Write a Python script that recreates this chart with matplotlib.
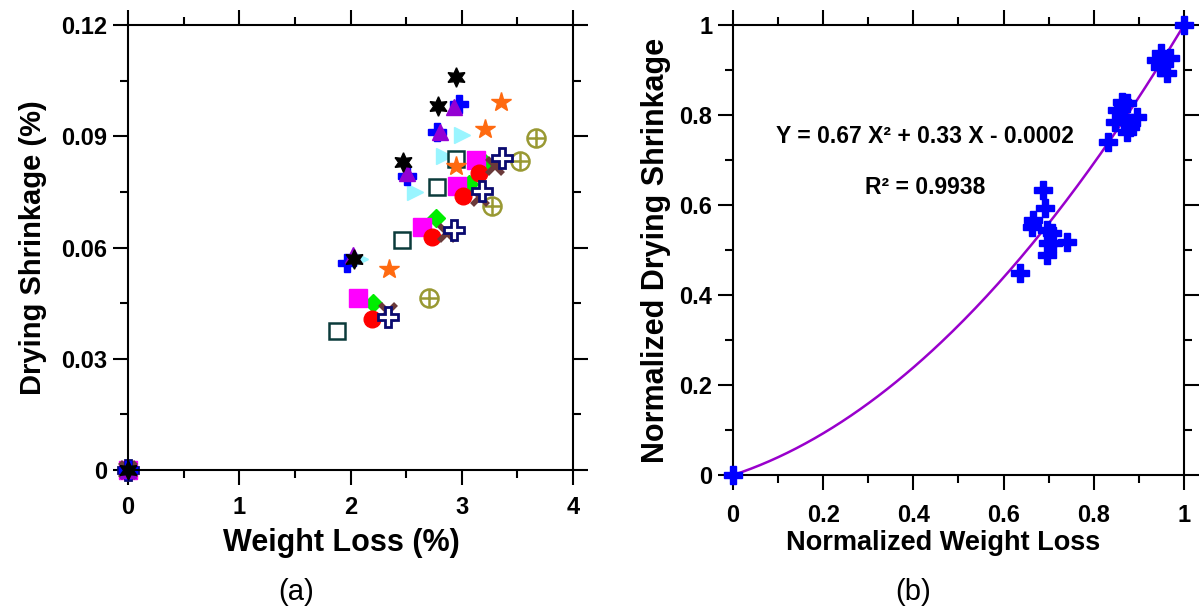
import matplotlib.pyplot as plt
import numpy as np
from matplotlib.ticker import MultipleLocator

plt.rcParams['font.family'] = ['Liberation Sans', 'DejaVu Sans']

# (a) weight loss (%) vs drying shrinkage (%), each series starts at origin
red_x = [0, 2.19, 2.735, 3.01, 3.155]
red_y = [0, 0.0407, 0.0629, 0.0740, 0.0800]
mag_x = [0, 2.07, 2.64, 2.96, 3.125]
mag_y = [0, 0.0463, 0.0656, 0.0767, 0.0836]
grn_x = [0, 2.205, 2.77, 3.065, 3.21]
grn_y = [0, 0.0451, 0.0679, 0.0771, 0.0827]
brn_x = [0, 2.335, 2.87, 3.16, 3.30]
brn_y = [0, 0.0427, 0.0640, 0.0737, 0.0821]
nvy_x = [0, 2.335, 2.93, 3.18, 3.365]
nvy_y = [0, 0.0412, 0.0647, 0.0752, 0.0841]
olv_x = [0, 2.71, 3.275, 3.52, 3.67]
olv_y = [0, 0.0465, 0.0713, 0.0834, 0.0894]
tea_x = [0, 1.88, 2.46, 2.78, 2.95]
tea_y = [0, 0.0376, 0.0620, 0.0762, 0.0838]
cyn_x = [0, 2.085, 2.58, 2.84, 3.0]
cyn_y = [0, 0.0570, 0.0751, 0.0847, 0.0903]
org_x = [0, 2.35, 2.95, 3.21, 3.35]
org_y = [0, 0.0541, 0.0820, 0.0920, 0.0993]
blu_x = [0, 1.97, 2.51, 2.78, 2.975]
blu_y = [0, 0.0559, 0.0793, 0.0912, 0.0987]
pur_x = [0, 2.02, 2.51, 2.80, 2.93]
pur_y = [0, 0.0580, 0.0802, 0.0912, 0.0978]
blk_x = [0, 2.03, 2.475, 2.79, 2.946]
blk_y = [0, 0.0569, 0.0831, 0.0982, 0.1059]

# (b) normalized values
norm_x = [0, 0.636, 0.662, 0.666, 0.687, 0.692, 0.696, 0.696, 0.699, 0.707, 0.71, 0.740,
          0.832, 0.847, 0.851, 0.862, 0.866, 0.873, 0.873, 0.880, 0.895,
          0.939, 0.947, 0.950, 0.954, 0.962, 0.969, 1.0]
norm_y = [0, 0.448, 0.552, 0.567, 0.633, 0.593, 0.544, 0.489, 0.515, 0.537, 0.516, 0.518,
          0.741, 0.785, 0.811, 0.830, 0.796, 0.826, 0.763, 0.774, 0.796,
          0.922, 0.907, 0.937, 0.915, 0.893, 0.926, 1.0]
fit_a, fit_b, fit_c = 0.67, 0.33, -0.0002

fig = plt.figure(figsize=(12.01, 6.10), dpi=100)
ax1 = fig.add_axes([0.1066, 0.2295, 0.3705, 0.7295])
ax2 = fig.add_axes([0.6103, 0.2213, 0.3755, 0.7377])


def style_axes(ax, xpad):
    for s in ax.spines.values():
        s.set_linewidth(1.5)
    ax.tick_params(which='both', direction='out', top=True, right=True, width=1.5,
                   labelsize=17)
    ax.tick_params(which='major', length=11, pad=4)
    ax.tick_params(axis='x', which='major', pad=xpad)
    ax.tick_params(which='minor', length=6)
    for lab in ax.get_xticklabels() + ax.get_yticklabels():
        lab.set_fontweight('bold')


ax = ax1
ax.plot(cyn_x, cyn_y, ls='none', marker='>', ms=12, color='#99F5FF', clip_on=False)
ax.plot(tea_x, tea_y, ls='none', marker='s', ms=11, mfc='white', mec='#0B3B3B', mew=1.8, clip_on=False)
ax.plot(org_x, org_y, ls='none', marker='*', ms=15, color='#FF6A10', clip_on=False)
ax.plot(olv_x, olv_y, ls='none', marker='o', ms=13, mfc='white', mec='#999933', mew=1.8, clip_on=False)
ax.plot(olv_x, olv_y, ls='none', marker='+', ms=13, mec='#999933', mew=1.8, clip_on=False)
ax.plot(grn_x, grn_y, ls='none', marker='D', ms=9, color='#00EE00', clip_on=False)
ax.plot(mag_x, mag_y, ls='none', marker='s', ms=13, color='#FF00FF', clip_on=False)
ax.plot(red_x, red_y, ls='none', marker='o', ms=12, color='#FF0000', clip_on=False)
ax.plot(brn_x, brn_y, ls='none', marker='x', ms=12, mec='#6B3A3A', mew=4, clip_on=False)
ax.plot(nvy_x, nvy_y, ls='none', marker='P', ms=14, mfc='white', mec='#0A0A70', mew=2, clip_on=False)
ax.plot(blu_x, blu_y, ls='none', marker='P', ms=13, color='#0000FF', clip_on=False)
ax.plot(pur_x, pur_y, ls='none', marker='^', ms=12, color='#9400D3', clip_on=False)
ax.plot(blk_x, blk_y, ls='none', marker=(6, 1, 0), ms=14, color='black', clip_on=False)
ax.set_xlim(0, 4)
ax.set_ylim(0, 0.12)
ax.xaxis.set_major_locator(MultipleLocator(1))
ax.xaxis.set_minor_locator(MultipleLocator(0.5))
ax.yaxis.set_major_locator(MultipleLocator(0.03))
ax.yaxis.set_minor_locator(MultipleLocator(0.015))
ax.set_xticks([0, 1, 2, 3, 4], ['0', '1', '2', '3', '4'])
ax.set_yticks([0, 0.03, 0.06, 0.09, 0.12], ['0', '0.03', '0.06', '0.09', '0.12'])
style_axes(ax, 8)
ax.set_xlabel('Weight Loss (%)', fontsize=22, fontweight='bold', labelpad=6)
ax.xaxis.label.set_x(0.48)
ax.set_ylabel('Drying Shrinkage (%)', fontsize=21, fontweight='bold', labelpad=10)

ax = ax2
xs = np.linspace(0, 1, 200)
ax.plot(xs, fit_a * xs**2 + fit_b * xs + fit_c, color='#9900CC', lw=1.8, zorder=2)
ax.plot(norm_x, norm_y, ls='none', marker='P', ms=13, color='#0000FF', clip_on=False, zorder=3)
ax.set_xlim(0, 1)
ax.set_ylim(0, 1)
ax.xaxis.set_major_locator(MultipleLocator(0.2))
ax.xaxis.set_minor_locator(MultipleLocator(0.1))
ax.yaxis.set_major_locator(MultipleLocator(0.2))
ax.yaxis.set_minor_locator(MultipleLocator(0.1))
ax.set_xticks([0, 0.2, 0.4, 0.6, 0.8, 1], ['0', '0.2', '0.4', '0.6', '0.8', '1'])
ax.set_yticks([0, 0.2, 0.4, 0.6, 0.8, 1], ['0', '0.2', '0.4', '0.6', '0.8', '1'])
style_axes(ax, 10)
ax.set_xlabel('Normalized Weight Loss', fontsize=19.5, fontweight='bold', labelpad=2)
ax.xaxis.label.set_x(0.466)
ax.set_ylabel('Normalized Drying Shrinkage', fontsize=22, fontweight='bold', labelpad=6)
ax.text(0.426, 0.752, 'Y = 0.67 X² + 0.33 X - 0.0002', transform=ax.transAxes,
        ha='center', va='center', fontsize=16.5, fontweight='bold')
ax.text(0.426, 0.64, 'R² = 0.9938', transform=ax.transAxes,
        ha='center', va='center', fontsize=16.5, fontweight='bold')

fig.text(0.2465, 0.03, '(a)', ha='center', va='center', fontsize=21)
fig.text(0.7602, 0.03, '(b)', ha='center', va='center', fontsize=21)

fig.savefig('out.png', dpi=100)
